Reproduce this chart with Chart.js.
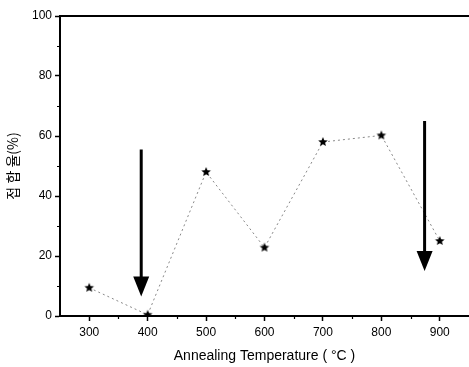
<!DOCTYPE html>
<html>
<head>
<meta charset="utf-8">
<script src="https://cdn.jsdelivr.net/npm/chart.js"></script>
<style>
  html, body { margin: 0; padding: 0; background: #fff; }
  #wrap { width: 469px; height: 367px; }
</style>
</head>
<body>
<div id="wrap"><canvas id="chart"></canvas></div>
<script>
const temps = [300, 400, 500, 600, 700, 800, 900]
const bondRate = [9.4, 0.4, 48, 22.8, 58, 60.2, 25]
const xTicks = [300, 400, 500, 600, 700, 800, 900]
const xMinorTicks = [350, 450, 550, 650, 750, 850]
const yTicks = [0, 20, 40, 60, 80, 100]
const yMinorTicks = [10, 30, 50, 70, 90]
// arrows: x position, start value, tip value
const arrowX = [389, 874]
const arrowFrom = [55.5, 65]
const arrowTo = [6.5, 15]

const tickFont = { family: '"Liberation Sans", Arial, sans-serif', size: 12 }

// filled five point star for the markers
const makeStar = (r) => {
  const c = document.createElement('canvas')
  c.width = r * 2 + 2
  c.height = r * 2 + 2
  const g = c.getContext('2d')
  g.fillStyle = '#000'
  g.beginPath()
  for (let i = 0; i < 10; i++) {
    const rad = i % 2 === 0 ? r : r * 0.45
    const a = -Math.PI / 2 + i * Math.PI / 5
    const px = r + 1 + rad * Math.cos(a)
    const py = r + 1 + rad * Math.sin(a)
    if (i === 0) g.moveTo(px, py)
    else g.lineTo(px, py)
  }
  g.closePath()
  g.fill()
  return c
}

const extras = {
  id: 'extras',
  afterDraw: (chart) => {
    const ctx = chart.ctx
    const area = chart.chartArea
    const x = chart.scales.x
    const y = chart.scales.y
    ctx.save()
    ctx.strokeStyle = '#000'
    // top frame line
    ctx.lineWidth = 2
    ctx.beginPath()
    ctx.moveTo(area.left - 1, area.top)
    ctx.lineTo(area.right, area.top)
    ctx.stroke()
    // minor ticks
    ctx.lineWidth = 1.2
    ctx.beginPath()
    xMinorTicks.forEach((v) => {
      const px = Math.round(x.getPixelForValue(v)) + 0.5
      ctx.moveTo(px, area.bottom)
      ctx.lineTo(px, area.bottom + 3)
    })
    yMinorTicks.forEach((v) => {
      const py = Math.round(y.getPixelForValue(v)) + 0.5
      ctx.moveTo(area.left, py)
      ctx.lineTo(area.left - 3, py)
    })
    ctx.stroke()
    // arrows
    ctx.fillStyle = '#000'
    for (let i = 0; i < arrowX.length; i++) {
      const px = x.getPixelForValue(arrowX[i])
      const top = y.getPixelForValue(arrowFrom[i])
      const tip = y.getPixelForValue(arrowTo[i])
      ctx.lineWidth = 3
      ctx.beginPath()
      ctx.moveTo(px, top)
      ctx.lineTo(px, tip - 18)
      ctx.stroke()
      ctx.beginPath()
      ctx.moveTo(px - 8, tip - 20)
      ctx.lineTo(px + 8, tip - 20)
      ctx.lineTo(px, tip)
      ctx.closePath()
      ctx.fill()
    }
    ctx.restore()
  }
}

new Chart(document.querySelector('#chart'), {
  type: 'line',
  data: {
    datasets: [{
      data: temps.map((t, i) => ({ x: t, y: bondRate[i] })),
      borderColor: '#888',
      borderWidth: 1,
      borderDash: [2, 3],
      pointStyle: makeStar(5),
      pointRadius: 5,
      pointBackgroundColor: '#000',
      tension: 0
    }]
  },
  options: {
    responsive: true,
    maintainAspectRatio: false,
    animation: false,
    devicePixelRatio: 1,
    layout: { autoPadding: false, padding: { top: 16, right: 0, left: 0, bottom: 0 } },
    plugins: {
      legend: { display: false },
      tooltip: { enabled: false }
    },
    scales: {
      x: {
        type: 'linear',
        min: 250,
        max: 950,
        afterBuildTicks: (scale) => { scale.ticks = xTicks.map((v) => ({ value: v })) },
        afterFit: (scale) => {
          scale.height = 51
          scale.paddingRight = 0
          scale.paddingLeft = 0
        },
        grid: { drawOnChartArea: false, drawTicks: true, tickLength: 5, tickColor: '#000', tickWidth: 1.5 },
        border: { display: true, color: '#000', width: 2 },
        ticks: { color: '#000', font: tickFont, padding: 4, maxRotation: 0 },
        title: {
          display: true,
          text: 'Annealing Temperature ( °C )',
          color: '#000',
          font: { family: '"Liberation Sans", Arial, sans-serif', size: 14 },
          padding: { top: 0, bottom: 2 }
        }
      },
      y: {
        min: 0,
        max: 100,
        afterBuildTicks: (scale) => { scale.ticks = yTicks.map((v) => ({ value: v })) },
        afterFit: (scale) => { scale.width = 60 },
        grid: { drawOnChartArea: false, drawTicks: true, tickLength: 5, tickColor: '#000', tickWidth: 1.5 },
        border: { display: true, color: '#000', width: 2 },
        ticks: { color: '#000', font: tickFont, padding: 3 },
        title: {
          display: true,
          text: '접 합 율(%)',
          color: '#000',
          font: { family: '"Noto Sans CJK KR", sans-serif', size: 14 },
          padding: { top: 4, bottom: 0 }
        }
      }
    }
  },
  plugins: [extras]
})
</script>
</body>
</html>
